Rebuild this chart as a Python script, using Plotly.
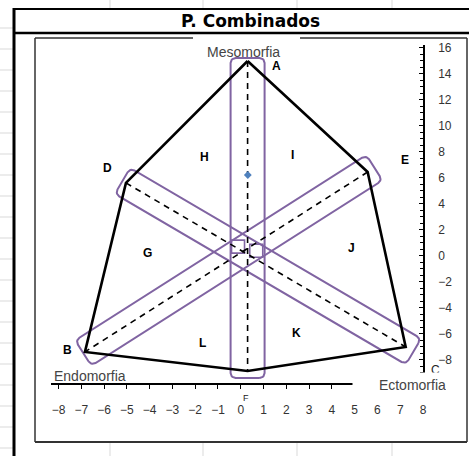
import numpy as np
import plotly.graph_objects as go

# ---------------- data ----------------
vertex_names = ["A", "E", "C", "F", "B", "D"]
vertex_x = [0.30, 5.57, 7.24, 0.30, -6.84, -5.04]
vertex_y = [15.00, 6.46, -7.00, -8.85, -7.38, 5.62]

# dashed axes of the somatochart (vertex pairs)
axis_pairs = [("A", "F"), ("D", "C"), ("E", "B")]

# subject somatotype point
subject_x = [0.31]
subject_y = [6.23]

# small boxes drawn where the three bands cross
center_box_x = [-0.12, 0.68]
center_box_y = [0.72, 0.40]

# region / vertex letter labels
label_text = ["A", "H", "I", "D", "E", "G", "J", "B", "L", "K"]
label_x = [1.58, -1.58, 2.28, -5.83, 7.19, -4.08, 4.87, -7.59, -1.67, 2.46]
label_y = [14.60, 7.60, 7.77, 6.77, 7.38, 0.23, 0.62, -7.23, -6.69, -5.92]

x_ticks = list(range(-8, 9))
y_ticks = list(range(-8, 17, 2))

# ---------------- layout geometry ----------------
W, H = 469, 456
ML, MR, MT, MB = 51, 46, 45, 73
XR = [-8.33, 8.0]
YR = [-9.77, 16.23]
PW, PH = W - ML - MR, H - MT - MB
sx = PW / (XR[1] - XR[0])
sy = PH / (YR[1] - YR[0])

def pxx(px):
    return (px - ML) / PW

def pxy(py):
    return (H - MB - py) / PH

vx = dict(zip(vertex_names, vertex_x))
vy = dict(zip(vertex_names, vertex_y))

PURPLE = "#8064A2"

def band(n0, n1, half_w, ext0, ext1, r=5, n=8):
    """rounded rectangle (in screen space) around the segment n0-n1"""
    u0, v0 = vx[n0] * sx, vy[n0] * sy
    u1, v1 = vx[n1] * sx, vy[n1] * sy
    du, dv = u1 - u0, v1 - v0
    ln = np.hypot(du, dv)
    du, dv = du / ln, dv / ln
    nu, nv = -dv, du
    s0, s1 = -ext0, ln + ext1
    pts = []
    corners = [(s1 - r, half_w - r, 0), (s0 + r, half_w - r, 90),
               (s0 + r, -half_w + r, 180), (s1 - r, -half_w + r, 270)]
    for cs, ct, a0 in corners:
        for a in np.linspace(np.radians(a0), np.radians(a0 + 90), n):
            s = cs + r * np.cos(a)
            t = ct + r * np.sin(a)
            pts.append((u0 + s * du + t * nu, v0 + s * dv + t * nv))
    pts.append(pts[0])
    xs = [p[0] / sx for p in pts]
    ys = [p[1] / sy for p in pts]
    return xs, ys

band_specs = [("A", "F", 17, 3, 7), ("D", "C", 15, 4, 9), ("E", "B", 15, 8, 2)]

fig = go.Figure()

# purple bands
for n0, n1, hw, e0, e1 in band_specs:
    bx, by = band(n0, n1, hw, e0, e1)
    fig.add_trace(go.Scatter(x=bx, y=by, mode="lines",
                             line=dict(color=PURPLE, width=2),
                             hoverinfo="skip", showlegend=False))

fig.add_trace(go.Scatter(x=center_box_x, y=center_box_y, mode="markers",
                         marker=dict(symbol="square-open", size=13, color=PURPLE,
                                     line=dict(width=1.6, color=PURPLE)),
                         hoverinfo="skip", showlegend=False))

# dashed axes
for a, b in axis_pairs:
    fig.add_trace(go.Scatter(x=[vx[a], vx[b]], y=[vy[a], vy[b]], mode="lines",
                             line=dict(color="black", width=1.6, dash="6px,5px"),
                             showlegend=False))

# hexagon outline
fig.add_trace(go.Scatter(x=vertex_x + [vertex_x[0]], y=vertex_y + [vertex_y[0]],
                         mode="lines", line=dict(color="black", width=2.6),
                         showlegend=False))

# subject point
fig.add_trace(go.Scatter(x=subject_x, y=subject_y, mode="markers",
                         marker=dict(symbol="diamond", size=6, color="#4F81BD"),
                         showlegend=False))

FONT = "Liberation Sans, Arial, sans-serif"
C = dict(xanchor="center", yanchor="middle", showarrow=False)
ann = []
for t, x, y in zip(label_text, label_x, label_y):
    ann.append(dict(x=x, y=y, xref="x", yref="y", text="<b>%s</b>" % t, **C,
                    font=dict(family=FONT, size=12, color="black")))
# C and F labels near the axes
ann.append(dict(x=pxx(435), y=pxy(370), xref="paper", yref="paper", text="C", **C,
                font=dict(family=FONT, size=12, color="#222")))
ann.append(dict(x=pxx(246), y=pxy(398), xref="paper", yref="paper", text="F", **C,
                font=dict(family=FONT, size=9, color="#222")))
# axis names
ann.append(dict(x=pxx(243), y=pxy(52), xref="paper", yref="paper", text="Mesomorfia", **C,
                font=dict(family=FONT, size=14, color="#444")))
ann.append(dict(x=pxx(90), y=pxy(376), xref="paper", yref="paper", text="Endomorfia", **C,
                font=dict(family=FONT, size=14, color="#444")))
ann.append(dict(x=pxx(352), y=pxy(385), xref="paper", yref="paper", text="Ectomorfia",
                xanchor="left", yanchor="middle", align="right", width=93, height=24,
                bgcolor="white", borderpad=0, showarrow=False,
                font=dict(family=FONT, size=14, color="#444")))
# title
ann.append(dict(x=pxx(250), y=pxy(21), xref="paper", yref="paper",
                text="<b>P. Combinados</b>", **C,
                font=dict(family="DejaVu Sans", size=17, color="black")))

shapes = []
GRID = "#d9d9d9"
for gx in [110, 203, 297, 392]:
    shapes.append(dict(type="line", xref="paper", yref="paper",
                       x0=pxx(gx), x1=pxx(gx), y0=pxy(0), y1=pxy(9),
                       line=dict(color=GRID, width=1)))
    shapes.append(dict(type="line", xref="paper", yref="paper",
                       x0=pxx(gx), x1=pxx(gx), y0=pxy(443), y1=pxy(456),
                       line=dict(color=GRID, width=1)))
for gy in range(28, 456, 21):
    shapes.append(dict(type="line", xref="paper", yref="paper",
                       x0=pxx(0), x1=pxx(13), y0=pxy(gy), y1=pxy(gy),
                       line=dict(color=GRID, width=1)))
# frame
shapes.append(dict(type="line", xref="paper", yref="paper", x0=pxx(14), x1=pxx(14),
                   y0=pxy(8), y1=pxy(460), line=dict(color="black", width=3)))
shapes.append(dict(type="line", xref="paper", yref="paper", x0=pxx(13), x1=pxx(470),
                   y0=pxy(9), y1=pxy(9), line=dict(color="black", width=2)))
shapes.append(dict(type="line", xref="paper", yref="paper", x0=pxx(13), x1=pxx(470),
                   y0=pxy(33), y1=pxy(33), line=dict(color="black", width=2.5)))
# inner chart box (gap at top where the Mesomorfia label sits)
IB = dict(color="#333", width=1.5)
shapes.append(dict(type="line", xref="paper", yref="paper", x0=pxx(35), x1=pxx(193),
                   y0=pxy(38), y1=pxy(38), line=IB))
shapes.append(dict(type="line", xref="paper", yref="paper", x0=pxx(300), x1=pxx(467),
                   y0=pxy(38), y1=pxy(38), line=IB))
shapes.append(dict(type="line", xref="paper", yref="paper", x0=pxx(35), x1=pxx(35),
                   y0=pxy(38), y1=pxy(442), line=IB))
shapes.append(dict(type="line", xref="paper", yref="paper", x0=pxx(467), x1=pxx(467),
                   y0=pxy(38), y1=pxy(442), line=IB))
shapes.append(dict(type="line", xref="paper", yref="paper", x0=pxx(35), x1=pxx(467),
                   y0=pxy(442), y1=pxy(442), line=dict(color="#333", width=2)))

fig.update_layout(
    width=W, height=H, autosize=False,
    margin=dict(l=ML, r=MR, t=MT, b=MB),
    paper_bgcolor="white", plot_bgcolor="white",
    showlegend=False,
    annotations=ann, shapes=shapes,
    xaxis=dict(range=XR, showgrid=False, zeroline=False, showline=True,
               linecolor="black", linewidth=1.5, ticks="outside", ticklen=4,
               tickcolor="black", tickvals=x_ticks, ticklabelstandoff=11,
               tickfont=dict(family=FONT, size=12, color="#333"), fixedrange=True),
    yaxis=dict(range=YR, side="right", showgrid=False, zeroline=False, showline=True,
               linecolor="black", linewidth=1.5, ticks="inside", ticklen=4,
               tickcolor="black", tickvals=y_ticks, ticklabelstandoff=11,
               minor=dict(dtick=0.5, ticks="inside", ticklen=3, tickcolor="black"),
               tickfont=dict(family=FONT, size=12, color="#333"), fixedrange=True),
)

fig.write_html("out.html", config={"displayModeBar": False},
               post_script="document.body.style.margin='0px';")
